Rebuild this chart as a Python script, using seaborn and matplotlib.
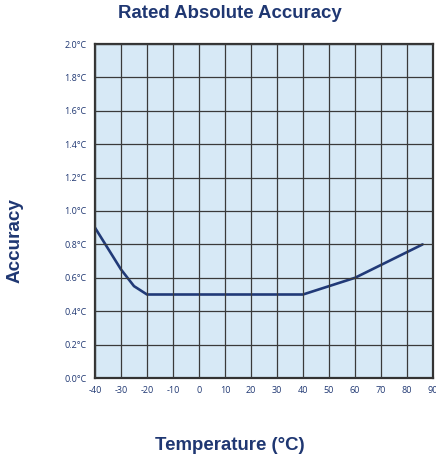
import matplotlib
matplotlib.use("Agg")
import matplotlib.pyplot as plt
import seaborn as sns
import pandas as pd

temperature = [-40, -30, -25, -20, 40, 60, 86]
accuracy = [0.9, 0.65, 0.55, 0.5, 0.5, 0.6, 0.8]
x_ticks = list(range(-40, 91, 10))
y_ticks = [0.0, 0.2, 0.4, 0.6, 0.8, 1.0, 1.2, 1.4, 1.6, 1.8, 2.0]
y_labels = [f"{v:.1f}°C" for v in y_ticks]

navy = "#1f3772"
sns.set_style("white")
plt.rcParams['font.family'] = ['Liberation Sans', 'DejaVu Sans']

fig = plt.figure(figsize=(4.36, 4.61), dpi=100)
ax = fig.add_axes([95/436, 83/461, 338/436, 334/461])
ax.set_facecolor("#d7e9f6")

df = pd.DataFrame({"Temperature": temperature, "Accuracy": accuracy})
sns.lineplot(data=df, x="Temperature", y="Accuracy", ax=ax, color="#213a78", linewidth=1.9)

ax.set_xlim(-40, 90)
ax.set_ylim(0, 2.0)
ax.set_xticks(x_ticks)
ax.set_xticklabels([str(t) for t in x_ticks], fontsize=6.5, color=navy, family=['Open Sans', 'DejaVu Sans'])
ax.set_yticks(y_ticks)
ax.set_yticklabels(y_labels, fontsize=6.5, color=navy, family=['Open Sans', 'DejaVu Sans'])
ax.tick_params(length=0, pad=6)
ax.grid(True, color="#3a3a3a", linewidth=0.9)
ax.set_axisbelow(False)
for s in ax.spines.values():
    s.set_color("#333333")
    s.set_linewidth(1.6)
ax.set_xlabel("")
ax.set_ylabel("")

fig.text(230/436, 1 - 14/461, "Rated Absolute Accuracy", ha="center", va="center",
         fontsize=13.4, fontweight="bold", color=navy)
fig.text(15/436, 1 - 241/461, "Accuracy", ha="center", va="center", rotation=90,
         fontsize=13.6, fontweight="bold", color=navy)
fig.text(230/436, 1 - 445/461, "Temperature (°C)", ha="center", va="center",
         fontsize=13.4, fontweight="bold", color=navy)

fig.savefig("out.png", dpi=100)
